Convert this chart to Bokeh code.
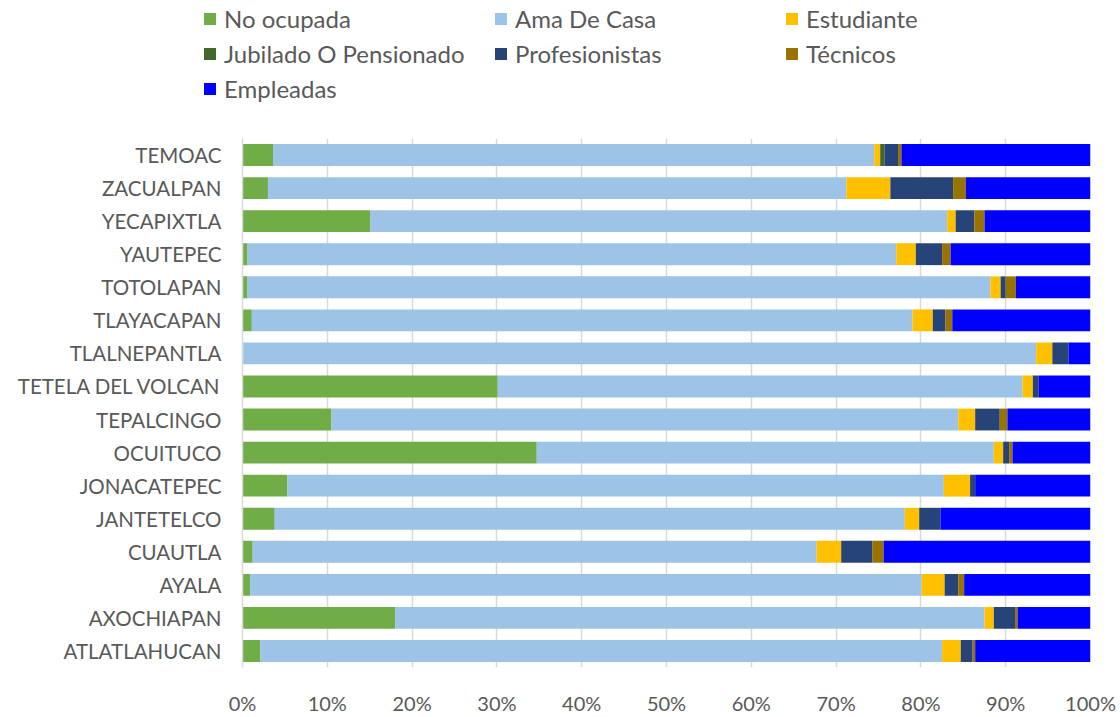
from bokeh.plotting import figure
from bokeh.layouts import column, row
from bokeh.models import ColumnDataSource, FixedTicker, Legend, LegendItem, Range1d, FactorRange
from bokeh.embed import file_html
from bokeh.resources import INLINE

municipios = ["TEMOAC", "ZACUALPAN", "YECAPIXTLA", "YAUTEPEC", "TOTOLAPAN", "TLAYACAPAN",
              "TLALNEPANTLA", "TETELA DEL VOLCAN", "TEPALCINGO", "OCUITUCO", "JONACATEPEC",
              "JANTETELCO", "CUAUTLA", "AYALA", "AXOCHIAPAN", "ATLATLAHUCAN"]

no_ocupada     = [3.6, 3.0, 15.1, 0.6, 0.6, 1.1, 0.1, 30.1, 10.5, 34.7, 5.3, 3.8, 1.2, 0.9, 18.0, 2.1]
ama_de_casa    = [70.9, 68.2, 68.0, 76.5, 87.6, 77.9, 93.5, 61.9, 73.9, 53.9, 77.4, 74.3, 66.5, 79.2, 69.5, 80.4]
estudiante     = [0.7, 5.2, 1.0, 2.3, 1.2, 2.4, 1.9, 1.2, 2.0, 1.1, 3.1, 1.7, 2.9, 2.7, 1.1, 2.2]
jubilado       = [0.5, 0, 0, 0, 0, 0, 0, 0, 0, 0, 0, 0, 0, 0, 0, 0]
profesionistas = [1.6, 7.4, 2.2, 3.1, 0.6, 1.5, 1.9, 0.7, 2.9, 0.7, 0.6, 2.5, 3.7, 1.6, 2.5, 1.4]
tecnicos       = [0.4, 1.5, 1.2, 1.0, 1.2, 0.8, 0.0, 0.0, 0.9, 0.4, 0.0, 0.0, 1.3, 0.7, 0.3, 0.3]
empleadas      = [22.3, 14.7, 12.5, 16.5, 8.8, 16.3, 2.6, 6.1, 9.8, 9.2, 13.6, 17.7, 24.4, 14.9, 8.6, 13.6]

series_names = ["No ocupada", "Ama De Casa", "Estudiante", "Jubilado O Pensionado",
                "Profesionistas", "Técnicos", "Empleadas"]
series_keys = ["no_ocupada", "ama", "estudiante", "jubilado", "prof", "tec", "empleadas"]
colors = ["#70AD47", "#9DC3E6", "#FFC000", "#43682B", "#264478", "#997300", "#0000FF"]
tick_values = [0, 10, 20, 30, 40, 50, 60, 70, 80, 90, 100]
tick_labels = [f"{t}%" for t in tick_values]

source = ColumnDataSource(data=dict(
    municipio=municipios, no_ocupada=no_ocupada, ama=ama_de_casa, estudiante=estudiante,
    jubilado=jubilado, prof=profesionistas, tec=tecnicos, empleadas=empleadas))

FONT = "Lato"
TXT = "#595959"

# ---- legend strip (top): same stacked renderers, ranges chosen so bars fall outside ----
leg = figure(width=1120, height=110, output_backend="svg", toolbar_location=None,
             x_range=Range1d(-1000, -999), y_range=FactorRange(factors=municipios),
             min_border=0, min_border_left=0, min_border_right=0,
             min_border_top=0, min_border_bottom=0)
leg.axis.visible = False
leg.grid.visible = False
leg.outline_line_color = None
leg_renderers = leg.hbar_stack(series_keys, y="municipio", height=0.66, color=colors,
                               source=source, line_color=None)
items = [LegendItem(label=n, renderers=[r]) for n, r in zip(series_names, leg_renderers)]
legend = Legend(items=items, orientation="horizontal", ncols=3,
                location=(202, 7), padding=0, margin=0, spacing=6,
                glyph_width=15, glyph_height=15, label_standoff=7, label_width=263,
                label_text_font=FONT, label_text_font_size="24px", label_text_color=TXT,
                label_height=29, border_line_color=None, background_fill_alpha=0)
leg.add_layout(legend, "center")

# ---- main chart ----
p = figure(y_range=list(reversed(municipios)), x_range=(0, 100),
           width=1120, height=607, output_backend="svg", toolbar_location=None,
           min_border_left=242, min_border_right=30, min_border_top=28, min_border_bottom=41)
p.outline_line_color = None

p.hbar_stack(series_keys, y="municipio", height=0.66, color=colors,
             source=source, line_color=None)

p.xaxis.ticker = FixedTicker(ticks=tick_values)
p.xaxis.major_label_overrides = {t: l for t, l in zip(tick_values, tick_labels)}
p.xaxis.axis_line_color = None
p.xaxis.major_tick_line_color = None
p.xaxis.minor_tick_line_color = None
p.xaxis.major_label_text_font = FONT
p.xaxis.major_label_text_font_size = "20px"
p.xaxis.major_label_text_color = TXT
p.xaxis.major_label_standoff = 17

p.yaxis.axis_line_color = "#D9D9D9"
p.yaxis.axis_line_width = 1.5
p.yaxis.major_tick_line_color = None
p.yaxis.minor_tick_line_color = None
p.yaxis.major_label_text_font = FONT
p.yaxis.major_label_text_font_size = "20.5px"
p.yaxis.major_label_text_color = TXT
p.yaxis.major_label_standoff = 15

p.xgrid.grid_line_color = "#D9D9D9"
p.xgrid.grid_line_width = 1.5
p.ygrid.grid_line_color = None

layout = column(row(leg), p, spacing=0)
open("out.html", "w").write(file_html(layout, INLINE))
